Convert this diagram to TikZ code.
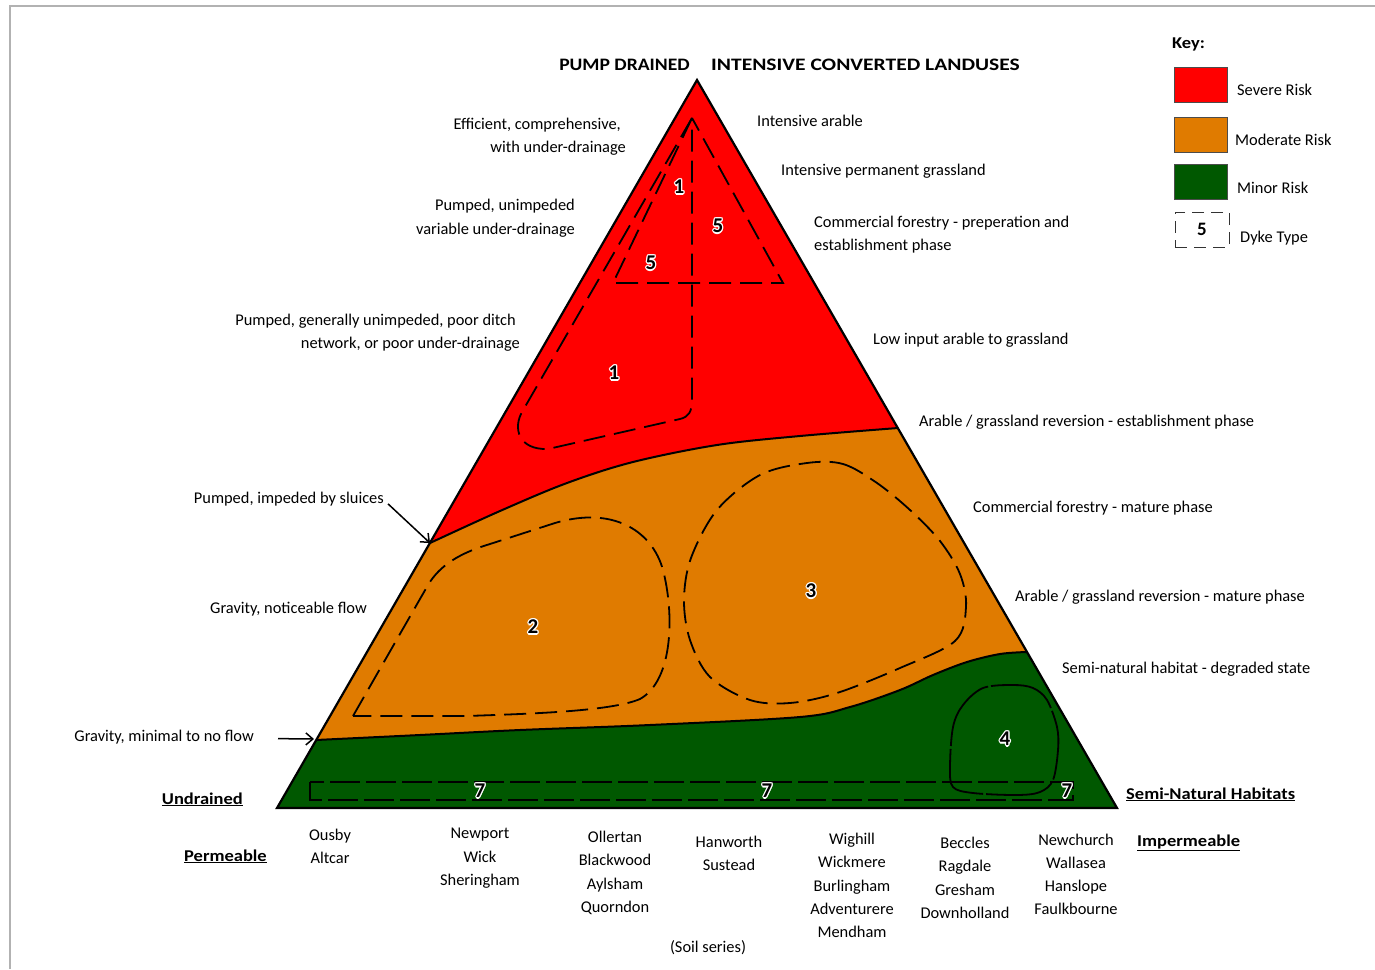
\documentclass[tikz,border=0pt]{standalone}
\usepackage{fontspec}
\setmainfont{Carlito}
\newfontfamily\bfam[FakeStretch=1.12]{Carlito}
\newfontfamily\bfamw[FakeStretch=1.23]{Carlito}
\usetikzlibrary{arrows.meta}
\definecolor{rred}{RGB}{255,0,0}
\definecolor{rorange}{RGB}{224,123,0}
\definecolor{rgreen}{RGB}{0,88,0}
\tikzset{
 lbl/.style={inner sep=0pt, font=\fontsize{16.4}{19}\selectfont, anchor=base west},
 lblr/.style={lbl, anchor=base east},
 lblc/.style={lbl, anchor=base},
 hdr/.style={lbl, font=\fontsize{16.5}{19}\selectfont\bfam\bfseries},
 hdrr/.style={hdr, anchor=base east},
 caphdr/.style={lbl, font=\fontsize{17.5}{20}\selectfont\bfamw\bfseries},
 caphdrr/.style={lbl, anchor=base east, font=\fontsize{17.5}{20}\selectfont\bfam\bfseries},
 dyke/.style={draw=black, line width=1.8pt, dash pattern=on 22pt off 9pt},
 bound/.style={draw=black, line width=2pt},
 numlbl/.style={inner sep=0pt, font=\fontsize{21}{24}\selectfont\bfseries},
 arr/.style={-{Straight Barb[length=7pt,width=12pt]}, line width=1.5pt},
 keybox/.style={draw=black!70, line width=0.6pt, minimum width=53pt, minimum height=35pt, inner sep=0pt},
}
\newcommand\dykenum[4]{%
 \foreach \dx/\dy in {1.3/0,-1.3/0,0/1.3,0/-1.3,0.9/0.9,-0.9/0.9,0.9/-0.9,-0.9/-0.9}{%
  \node[numlbl,text=white,xshift=\dx pt,yshift=\dy pt] at (#2,#3) {#4};}%
 \node[numlbl] (#1) at (#2,#3) {#4};}
\begin{document}
\begin{tikzpicture}[x=1pt,y=-1pt]
\useasboundingbox (0,0) rectangle (1375,969);
\draw[gray!60, line width=1.5pt] (10,969) -- (10,6) -- (1375,6);

\coordinate (A) at (697,80);
\coordinate (B) at (277,808);
\coordinate (C) at (1117,808);

\begin{scope}
\clip (A) -- (B) -- (C) -- cycle;
\fill[rgreen] (A) -- (B) -- (C) -- cycle;
\filldraw[fill=rorange, bound] (0,0) -- (1375,0) -- (1375,652) -- plot[smooth, tension=0.55] coordinates {(1027,652) (1000,654) (967,662) (933,675) (900,690) (850,707) (800,717) (650,725) (520,730) (420,735) (316,740)} -- (0,740) -- cycle;
\filldraw[fill=rred, bound] (0,0) -- (1375,0) -- (1375,428) -- plot[smooth, tension=0.55] coordinates {(898,428) (800,436) (717,445) (633,462) (567,483) (500,511) (430,543)} -- (0,543) -- cycle;
\end{scope}
\draw[line width=2.2pt, line join=miter] (A) -- (B) -- (C) -- cycle;

% dykes 1 and 5
\draw[dyke] (692,118) -- (522,412) .. controls (513,428) and (518,450) .. (548,449) -- (680,419) .. controls (689,417) and (692,411) .. (692,400) -- cycle;
\draw[dyke] (692,118) -- (613,283) -- (783,283) -- cycle;
% dyke 2
\draw[dyke] (353,716) -- (428,585) .. controls (440,565) and (460,553) .. (490,544) -- (555,523) .. controls (612,506) and (652,530) .. (663,570) .. controls (674,612) and (674,680) .. (640,699) .. controls (610,712) and (520,714) .. (467,716) -- cycle;
% dyke 3
\draw[dyke] plot[smooth cycle, tension=0.55] coordinates {(807,463) (843,464) (877,483) (910,510) (940,541) (960,574) (966,607) (955,641) (900,668) (837,693) (790,703) (750,700) (710,677) (690,640) (684,600) (691,558) (717,510) (760,475)};
% dyke 4
\draw[draw=black, line width=1.8pt, dash pattern=on 70pt off 3pt] plot[smooth cycle, tension=0.55] coordinates {(1013,685) (983,688) (963,705) (953,727) (950,767) (953,787) (973,793) (1017,795) (1040,792) (1053,780) (1058,750) (1057,727) (1047,700) (1033,688)};
% dyke 7
\draw[draw=black, line width=1.8pt, dash pattern=on 30pt off 6pt] (310,782) rectangle (1073,800);

\dykenum{n1a}{679}{187}{1}
\dykenum{n5a}{718}{226}{5}
\dykenum{n5b}{651}{263}{5}
\dykenum{n1b}{614}{373}{1}
\dykenum{n2}{533}{627}{2}
\dykenum{n3}{811}{591}{3}
\dykenum{n4}{1005}{739}{4}
\dykenum{n7a}{480}{791}{7}
\dykenum{n7b}{767}{791}{7}
\dykenum{n7c}{1067}{791}{7}

% headings
\node[caphdrr] (hpd) at (690,70) {PUMP DRAINED};
\node[caphdr] (hic) at (711,70) {INTENSIVE CONVERTED LANDUSES};

% left labels
\node[lblr] (l1a) at (621,129) {Efficient, comprehensive,};
\node[lblr] (l1b) at (626,152) {with under-drainage};
\node[lblr] (l2a) at (575,210) {Pumped, unimpeded};
\node[lblr] (l2b) at (575,234) {variable under-drainage};
\node[lblr] (l3a) at (516,325) {Pumped, generally unimpeded, poor ditch};
\node[lblr] (l3b) at (520,348) {network, or poor under-drainage};
\node[lblr] (lsl) at (384,503) {Pumped, impeded by sluices};
\node[lblr] (lgn) at (367,613) {Gravity, noticeable flow};
\node[lblr] (lgm) at (254,741) {Gravity, minimal to no flow};
\node[hdrr] (lun) at (243,804) {\underline{Undrained}};
\node[hdrr] (lpe) at (267,861) {\underline{Permeable}};

\coordinate (csl) at (430,543);
\coordinate (cgm) at (314,739);
\draw[arr] ([xshift=4pt,yshift=2pt]lsl.south east) -- (csl);
\draw[arr] ([xshift=24pt,yshift=-2pt]lgm.east) -- (cgm);

% right labels
\node[lbl] (r1) at (757,126) {Intensive arable};
\node[lbl] (r2) at (781,175) {Intensive permanent grassland};
\node[lbl] (r3a) at (814,227) {Commercial forestry - preperation and};
\node[lbl] (r3b) at (814,250) {establishment phase};
\node[lbl] (r4) at (873,344) {Low input arable to grassland};
\node[lbl] (r5) at (919,426) {Arable / grassland reversion - establishment phase};
\node[lbl] (r6) at (973,512) {Commercial forestry - mature phase};
\node[lbl] (r7) at (1015,601) {Arable / grassland reversion - mature phase};
\node[lbl] (r8) at (1062,673) {Semi-natural habitat - degraded state};
\node[hdr] (rsn) at (1126,799) {\underline{Semi-Natural Habitats}};
\node[hdr] (rim) at (1137,846) {\underline{Impermeable}};

% key
\node[hdr] (key) at (1172,48) {Key:};
\node[keybox, fill=rred] (kr) at (1200.5,84.5) {};
\node[keybox, fill=rorange] (ko) at (1200.5,134.5) {};
\node[keybox, fill=rgreen] (kg) at (1200.5,181.5) {};
\node[keybox, draw=black!80, dash pattern=on 12pt off 7pt, minimum width=54pt, font=\fontsize{19}{22}\selectfont\bfseries] (kd) at (1202,229.5) {5};
\node[lbl] (kl1) at (1237,95) {Severe Risk};
\node[lbl] (kl2) at (1235,145) {Moderate Risk};
\node[lbl] (kl3) at (1237,193) {Minor Risk};
\node[lbl] (kl4) at (1240,242) {Dyke Type};

% soil series
\node[lblc] (s1a) at (330,840) {Ousby};
\node[lblc] (s1b) at (330,863) {Altcar};
\node[lblc] (s2a) at (480,838) {Newport};
\node[lblc] (s2b) at (480,862) {Wick};
\node[lblc] (s2c) at (480,885) {Sheringham};
\node[lblc] (s3a) at (615,842) {Ollertan};
\node[lblc] (s3b) at (615,865) {Blackwood};
\node[lblc] (s3c) at (615,889) {Aylsham};
\node[lblc] (s3d) at (615,912) {Quorndon};
\node[lblc] (s4a) at (729,847) {Hanworth};
\node[lblc] (s4b) at (729,870) {Sustead};
\node[lblc] (s5a) at (852,844) {Wighill};
\node[lblc] (s5b) at (852,867) {Wickmere};
\node[lblc] (s5c) at (852,891) {Burlingham};
\node[lblc] (s5d) at (852,914) {Adventurere};
\node[lblc] (s5e) at (852,937) {Mendham};
\node[lblc] (s6a) at (965,848) {Beccles};
\node[lblc] (s6b) at (965,871) {Ragdale};
\node[lblc] (s6c) at (965,895) {Gresham};
\node[lblc] (s6d) at (965,918) {Downholland};
\node[lblc] (s7a) at (1076,845) {Newchurch};
\node[lblc] (s7b) at (1076,868) {Wallasea};
\node[lblc] (s7c) at (1076,891) {Hanslope};
\node[lblc] (s7d) at (1076,914) {Faulkbourne};
\node[lblc] (sss) at (708,952) {(Soil series)};
\end{tikzpicture}
\end{document}
